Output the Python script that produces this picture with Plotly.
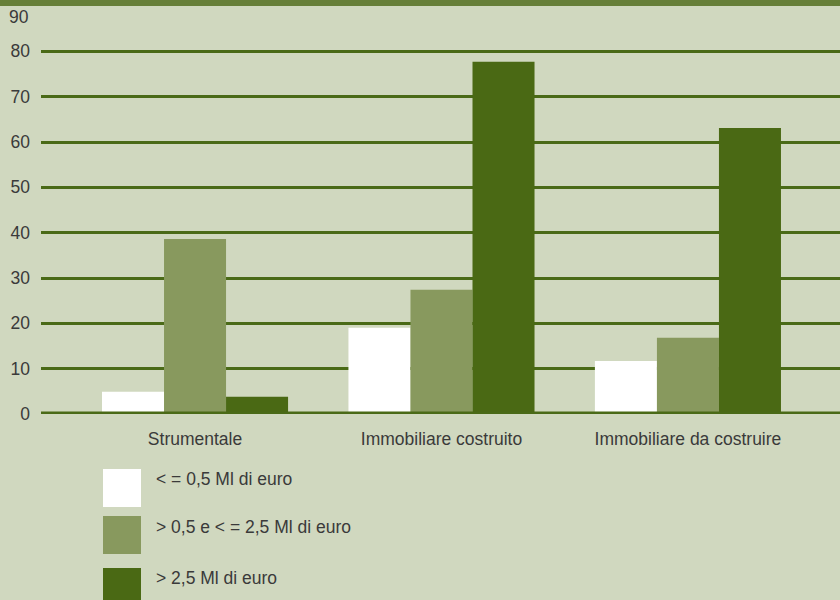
import plotly.graph_objects as go

categories = ["Strumentale", "Immobiliare costruito", "Immobiliare da costruire"]
series_names = ["< = 0,5 Ml di euro", "> 0,5 e < = 2,5 Ml di euro", "> 2,5 Ml di euro"]
small = [4.9, 19.0, 11.7]
medium = [38.6, 27.4, 16.8]
large = [3.8, 77.7, 63.1]
series_values = [small, medium, large]
colors = ["#ffffff", "#88995e", "#4a6914"]
y_ticks = [0, 10, 20, 30, 40, 50, 60, 70, 80]

BG = "#d0d8bf"
GRID = "#4a6a17"
TXT = "#3a3a3a"
FONT = "Liberation Sans, Arial, sans-serif"
FS = 17.5

W, H = 840, 600
L, R, T, B = 41, 0, 6, 186
PW, PH = W - L - R, H - T - B


def px(x):
    return (x - L) / PW


def py(y):
    return (H - B - y) / PH


fig = go.Figure()
for name, vals, col in zip(series_names, series_values, colors):
    fig.add_trace(go.Bar(x=categories, y=vals, name=name, marker=dict(color=col, line=dict(width=0)),
                         showlegend=False))

fig.update_layout(
    width=W, height=H,
    margin=dict(l=L, r=R, t=T, b=B),
    paper_bgcolor=BG, plot_bgcolor=BG,
    barmode="group", bargap=0.245, bargroupgap=0,
    font=dict(family=FONT, size=FS, color=TXT),
    xaxis=dict(range=[-0.625, 2.617], showgrid=False, zeroline=False, showline=False,
               ticks="", ticklabelstandoff=12, tickfont=dict(size=FS, color=TXT)),
    yaxis=dict(range=[0, 90], tickvals=y_ticks, showgrid=True, gridcolor=GRID, gridwidth=3,
               zeroline=False, showline=False, ticks="", ticklabelstandoff=10,
               tickfont=dict(size=FS, color=TXT)),
)

# top band
fig.add_shape(type="rect", xref="paper", yref="paper", x0=px(0), x1=px(W), y0=py(T), y1=py(-2),
              fillcolor="#667f38", line=dict(width=0), layer="above")
# baseline
fig.add_shape(type="line", xref="paper", yref="y", x0=0, x1=1, y0=0, y1=0,
              line=dict(color=GRID, width=5), layer="above")
# "90" label
fig.add_annotation(xref="paper", yref="y", x=0, y=90, text="90", showarrow=False,
                   xanchor="right", xshift=-10, yshift=-11, font=dict(size=FS, color=TXT))

# custom legend
sq_tops = [469, 516, 568]
txt_y = [479, 527, 578]
for name, col, top, ty in zip(series_names, colors, sq_tops, txt_y):
    fig.add_shape(type="rect", xref="paper", yref="paper", x0=px(103), x1=px(141),
                  y0=py(top + 38), y1=py(top), fillcolor=col, line=dict(width=0))
    fig.add_annotation(xref="paper", yref="paper", x=px(154), y=py(ty), text=name, showarrow=False,
                       xanchor="left", yanchor="middle", font=dict(size=FS, color=TXT))

fig.write_html("out.html")
